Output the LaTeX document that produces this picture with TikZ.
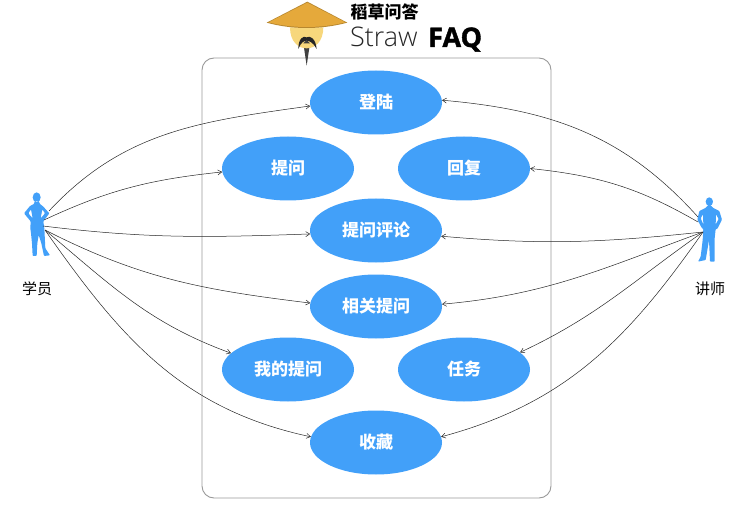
\documentclass[tikz,border=0pt]{standalone}
\usepackage{fontspec}
\setmainfont{Noto Sans CJK SC}
\newfontfamily\strawfont{Open Sans Light}
\newfontfamily\faqfont[FakeBold=1.5]{Open Sans}
\usetikzlibrary{shapes.geometric,arrows.meta}
\definecolor{caseblue}{HTML}{42A0F9}
\definecolor{hatgold}{HTML}{E5A93B}
\definecolor{facegold}{HTML}{F7D77C}
\begin{document}
\begin{tikzpicture}[x=1pt,y=-1pt,
    usecase/.style = {draw=none, ellipse, fill=caseblue, text=white, font=\bfseries\fontsize{17}{17}\selectfont, minimum width=132pt, minimum height=64pt, inner sep=0pt},
    actorname/.style = {font=\fontsize{15}{15}\selectfont, text=black},
    link/.style = {-{Straight Barb[length=4pt,width=5pt]}, line width=0.5pt, black!85}]
  \useasboundingbox (0,0) rectangle (737,516);
  \node[draw=black!40, rounded corners=12pt, line width=0.9pt, minimum width=349pt, minimum height=440pt, inner sep=0pt](frame) at (376.5,278) {};
  \node[usecase](login) at (376,102.5) {登陆};
  \node[usecase](ask) at (288,168.5) {提问};
  \node[usecase](reply) at (464,168.5) {回复};
  \node[usecase](comment) at (376,230.5) {提问评论};
  \node[usecase](related) at (376,306.5) {相关提问};
  \node[usecase](mine) at (288,369.5) {我的提问};
  \node[usecase](task) at (464,369.5) {任务};
  \node[usecase](fav) at (376,442.5) {收藏};
  % student figure
  \begin{scope}[shift={(0,180)},scale=1/3]
    \fill[caseblue, even odd rule, rounded corners=0.8pt] (110,52) ellipse (12 and 15)
      (104,64) -- (116,64) -- (120,72) -- (130,80) -- (148,100) -- (130,124) -- (133,145) -- (134,165) -- (136,205) -- (150,226) -- (132,228) -- (124,190) -- (116,165) -- (112,190) -- (110,228) -- (98,228) -- (96,190) -- (93,160) -- (91,145) -- (92,124) -- (72,100) -- (90,78) -- (102,72) -- cycle
      (85,100) -- (93,88) -- (98,115) -- cycle
      (135,100) -- (127,88) -- (122,115) -- cycle;
  \end{scope}
  % teacher figure
  \begin{scope}[shift={(670,185)},scale=1/3]
    \fill[caseblue, even odd rule, rounded corners=0.8pt] (118,50) ellipse (11 and 13)
      (112,62) -- (124,62) -- (128,68) -- (148,78) -- (156,104) -- (142,132) -- (137,132) -- (134,160) -- (134,230) -- (120,230) -- (117,165) -- (107,225) -- (84,230) -- (92,215) -- (98,165) -- (100,132) -- (96,130) -- (82,104) -- (88,78) -- (108,68) -- cycle
      (92,100) -- (99,88) -- (100,118) -- cycle
      (146,102) -- (138,88) -- (137,118) -- cycle;
  \end{scope}
  \coordinate (studenta) at (49,211);
  \coordinate (studentb) at (44,220);
  \coordinate (studentc) at (43,226);
  \coordinate (studentd) at (45,230);
  \coordinate (teachera) at (698,217);
  \coordinate (teacherb) at (698,222);
  \coordinate (teacherc) at (703,232);
  \node[actorname](studentname) at (37,289) {学员};
  \node[actorname](teachername) at (710,289) {讲师};
  \draw[link] (studenta) to [out=47, in=188, looseness=1] (login.183);
  \draw[link] (studentb) to [out=25, in=186, looseness=1] (ask.183);
  \draw[link] (studentc) to [out=-7, in=182, looseness=1] (comment.183);
  \draw[link] (studentd) to [out=-27, in=173, looseness=1] (related.177);
  \draw[link] (studentd) to [out=-40, in=160, looseness=1] (mine.164);
  \draw[link] (studentd) to [out=-55, in=168, looseness=1] (fav.175);
  \draw[link] (teachera) to [out=132, in=-5, looseness=1] (login.2);
  \draw[link] (teacherb) to [out=150, in=-6, looseness=1] (reply.east);
  \draw[link] (teacherc) to [out=186, in=-5, looseness=1] (comment.-5);
  \draw[link] (teacherc) to [out=200, in=5, looseness=1] (related.2);
  \draw[link] (teacherc) to [out=215, in=25, looseness=1] (task.17);
  \draw[link] (teacherc) to [out=235, in=15, looseness=1] (fav.5);
  % logo
  \begin{scope}[shift={(250,0)},scale=1/3]
    \fill[black!75] (160,130) -- (180,130) -- (170,197) -- cycle;
    \fill[facegold] (120,82) .. controls (120,125) and (145,145) .. (170,145) .. controls (195,145) and (220,125) .. (220,82) -- cycle;
    \fill[black!85] (145,147) .. controls (145,115) and (160,106) .. (170,112) .. controls (180,106) and (197,115) .. (200,147) .. controls (190,128) and (178,122) .. (170,122) .. controls (162,122) and (152,128) .. (145,147) -- cycle;
    \fill[black!75] (160,130) -- (170,120) -- (180,130) -- cycle;
    \fill[hatgold!80!black] (172,5) -- (292,68) .. controls (250,79) and (210,84) .. (170,84) .. controls (130,84) and (90,79) .. (50,68) -- cycle;
    \fill[hatgold] (172,8) -- (286,67) .. controls (250,76) and (210,81) .. (170,81) .. controls (130,81) and (90,76) .. (56,67) -- cycle;
  \end{scope}
  \node[font=\bfseries\fontsize{17}{17}\selectfont, inner sep=0pt](logocn) at (384.5,12) {稻草问答};
  \node[font=\strawfont\fontsize{27}{27}\selectfont, anchor=base west, inner sep=0pt, text=black!85](logostraw) at (350,47) {Straw};
  \node[font=\faqfont\bfseries\fontsize{27}{27}\selectfont, anchor=base west, inner sep=0pt](logofaq) at (428,47) {FAQ};
\end{tikzpicture}
\end{document}
